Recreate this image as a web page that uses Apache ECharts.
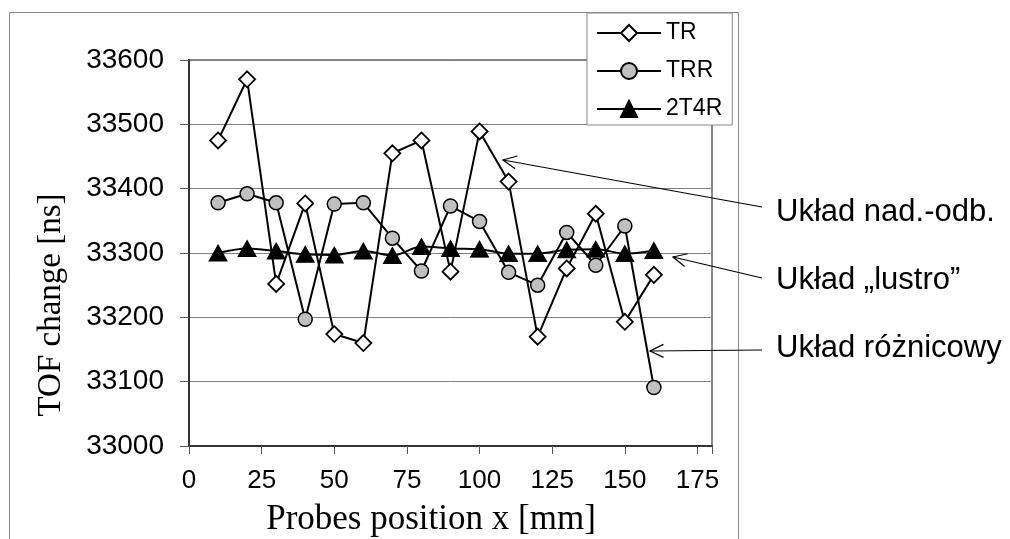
<!DOCTYPE html>
<html><head><meta charset="utf-8">
<script src="https://cdn.jsdelivr.net/npm/echarts@6/dist/echarts.min.js"></script>
<style>html,body{margin:0;padding:0;background:#fff}#c{width:1010px;height:539px}</style>
</head><body><div id="c"></div>
<script>
// ---- data ----
const positions = [10, 20, 30, 40, 50, 60, 70, 80, 90, 100, 110, 120, 130, 140, 150, 160];
const trValues = [33475, 33570, 33252, 33377, 33174, 33160, 33455, 33475, 33271, 33489, 33411, 33170, 33276, 33361, 33193, 33266];
const trrValues = [33378, 33392, 33378, 33197, 33376, 33378, 33323, 33272, 33373, 33349, 33270, 33250, 33332, 33281, 33342, 33091];
const t2t4rValues = [33300, 33307, 33303, 33298, 33297, 33303, 33296, 33310, 33307, 33306, 33299, 33299, 33305, 33306, 33299, 33304];
const seriesNames = ['TR', 'TRR', '2T4R'];
const xTitle = 'Probes position x [mm]';
const yTitle = 'TOF change [ns]';
const annotationTexts = ['Układ nad.-odb.', 'Układ „lustro”', 'Układ różnicowy'];

// ---- layout (pixels) ----
const annotations = [
  { tail: [762, 207], tip: [503, 160], tx: 776, ty: 212 },
  { tail: [762, 278], tip: [673, 257], tx: 776, ty: 280 },
  { tail: [762, 350], tip: [650, 351], tx: 776, ty: 348 }
];

const pair = (vals) => positions.map((x, i) => [x, vals[i]]);
const SANS = 'Liberation Sans';

const graphics = [
  { type: 'rect', z: 0, silent: true, shape: { x: 9.5, y: 12.5, width: 729, height: 540 },
    style: { fill: 'none', stroke: '#8a8a8a', lineWidth: 1 } },
  { type: 'text', x: 431, y: 520, z: 10,
    style: { text: xTitle, font: '35px "Liberation Serif"', fill: '#000', textAlign: 'center', textVerticalAlign: 'middle' } },
  { type: 'text', x: 51, y: 305, rotation: Math.PI / 2, z: 10,
    style: { text: yTitle, font: '33px "Liberation Serif"', fill: '#000', textAlign: 'center', textVerticalAlign: 'middle' } }
];
annotations.forEach((a, i) => {
  const dx = a.tail[0] - a.tip[0], dy = a.tail[1] - a.tip[1];
  const len = Math.hypot(dx, dy), ux = dx / len, uy = dy / len;
  const L = 15, ang = 0.45;
  const rot = (s) => [ux * Math.cos(s) - uy * Math.sin(s), ux * Math.sin(s) + uy * Math.cos(s)];
  const r1 = rot(ang), r2 = rot(-ang);
  graphics.push({ type: 'line', z: 20, silent: true,
    shape: { x1: a.tail[0], y1: a.tail[1], x2: a.tip[0], y2: a.tip[1] },
    style: { stroke: '#000', lineWidth: 1.2 } });
  graphics.push({ type: 'polyline', z: 20, silent: true,
    shape: { points: [[a.tip[0] + r1[0] * L, a.tip[1] + r1[1] * L], a.tip, [a.tip[0] + r2[0] * L, a.tip[1] + r2[1] * L]] },
    style: { stroke: '#000', lineWidth: 1.2, fill: 'none' } });
  graphics.push({ type: 'text', x: a.tx, y: a.ty, z: 20,
    style: { text: annotationTexts[i], font: '31px "Liberation Sans"', fill: '#000', textAlign: 'left', textVerticalAlign: 'middle' } });
});

const chart = echarts.init(document.getElementById('c'));
chart.setOption({
  animation: false,
  backgroundColor: '#fff',
  grid: { left: 189, top: 60, right: 298, bottom: 93, show: true, borderColor: '#8a8a8a', borderWidth: 2 },
  legend: {
    orient: 'vertical', left: 587, top: 13, padding: [8, 10, 4, 9],
    itemWidth: 64, itemHeight: 20, itemGap: 14, itemTextGap: 7,
    backgroundColor: '#fff', borderColor: '#8a8a8a', borderWidth: 1, z: 30,
    textStyle: { fontFamily: SANS, fontSize: 23, color: '#000', lineHeight: 24 },
    data: seriesNames
  },
  xAxis: {
    type: 'value', min: 0, max: 180, interval: 25,
    axisLine: { show: true, lineStyle: { color: '#333', width: 2 } },
    axisTick: { show: true, inside: false, length: 8, lineStyle: { color: '#555', width: 1 } },
    axisLabel: { margin: 22, fontFamily: SANS, fontSize: 26, color: '#000',
      formatter: (v) => (v === 180 ? '' : String(v)) },
    splitLine: { show: false }
  },
  yAxis: {
    type: 'value', min: 33000, max: 33600, interval: 100,
    axisLine: { show: true, lineStyle: { color: '#333', width: 2 } },
    axisTick: { show: true, inside: false, length: 9, lineStyle: { color: '#555', width: 1 } },
    axisLabel: { margin: 25, fontFamily: SANS, fontSize: 28, color: '#000',
      formatter: (v) => String(v) },
    splitLine: { show: true, lineStyle: { color: '#808080', width: 1 } }
  },
  series: [
    { name: 'TR', type: 'line', data: pair(trValues), symbol: 'diamond', symbolSize: 16,
      lineStyle: { color: '#000', width: 2 },
      itemStyle: { color: '#fff', borderColor: '#000', borderWidth: 1.8 } },
    { name: 'TRR', type: 'line', data: pair(trrValues), symbol: 'circle', symbolSize: 14,
      lineStyle: { color: '#000', width: 2 },
      itemStyle: { color: '#c0c0c0', borderColor: '#000', borderWidth: 1.5 } },
    { name: '2T4R', type: 'line', data: pair(t2t4rValues), symbol: 'triangle', symbolSize: [18, 16],
      smooth: 0.3,
      lineStyle: { color: '#000', width: 2 },
      itemStyle: { color: '#000', borderColor: '#000', borderWidth: 1 } }
  ],
  graphic: graphics
});
</script></body></html>
